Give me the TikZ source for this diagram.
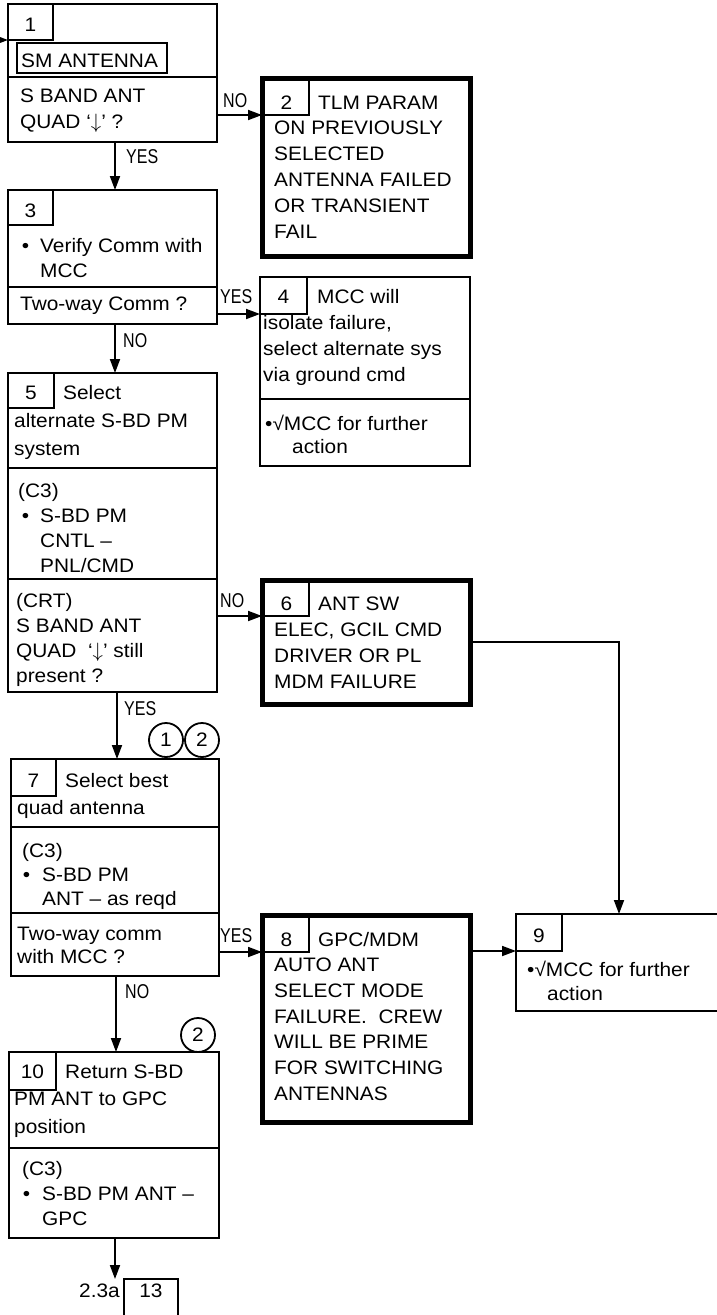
\documentclass[tikz,border=0pt]{standalone}
\usepackage{fontspec}
\setmainfont{Liberation Sans}[FakeStretch=1.07]
\newfontfamily\lblfont{Liberation Sans}[FakeStretch=0.8]
\usetikzlibrary{arrows.meta}
\newcommand\txtlines[2][25.8pt]{\vtop{\baselineskip=#1\lineskiplimit=-30pt\lineskip=0pt\halign{##\hfil\cr#2\crcr}}}
\newcommand\darr{$\downarrow$}
\tikzset{
  mainfont/.style={font=\fontsize{19.5}{25.8}\selectfont},
  box/.style={draw, line width=2.2pt, anchor=north west, inner sep=0pt, outer sep=0pt},
  thickbox/.style={draw, line width=5pt, anchor=north west, inner sep=0pt, outer sep=0pt},
  numbox/.style={draw, line width=1.8pt, anchor=north west, inner sep=0pt, outer sep=0pt, mainfont},
  txt/.style={anchor=base west, inner sep=0pt, mainfont},
  num/.style={anchor=base, inner sep=0pt, mainfont},
  lbl/.style={anchor=base west, inner sep=0pt, font=\lblfont\fontsize{20}{20}\selectfont},
  divline/.style={line width=2.2pt},
  arr/.style={line width=1.8pt, -{Triangle[length=14pt,width=10pt]}},
  circ/.style={draw, circle, line width=1.8pt, minimum size=34pt, inner sep=0pt, mainfont}
}
\begin{document}
\begin{tikzpicture}[x=1pt,y=-1pt]
\useasboundingbox (0,0) rectangle (717,1315);

% ---- Box 1
\node[box, minimum width=209pt, minimum height=138pt] (b1) at (8,4) {};
\node[numbox, minimum width=45pt, minimum height=36pt] (b1n) at (8,4) {};
\node[num] (n1) at (b1n.center |- 0,31) {1};
\node[numbox, line width=2pt, minimum width=150pt, minimum height=30pt] (sm) at (17,43) {};
\node[txt] (smt) at (21,67) {SM ANTENNA};
\draw[divline] (b1.west |- 0,77) -- (b1.east |- 0,77);
\node[txt] (t1) at (20,102) {\txtlines[26pt]{S BAND ANT\cr QUAD ‘\darr’ ?}};
\coordinate (start) at (0,40);
\draw[arr] (start) -- (b1.west |- start);

% ---- Box 2
\node[thickbox, minimum width=208pt, minimum height=178pt] (b2) at (262,78) {};
\node[numbox, minimum width=47pt, minimum height=37pt] (b2n) at (262,78) {};
\node[num] (n2) at ([xshift=1pt]b2n.center |- 0,109) {2};
\node[txt] (t2) at (274,109) {\txtlines{\hspace{44pt}TLM PARAM\cr ON PREVIOUSLY\cr SELECTED\cr ANTENNA FAILED\cr OR TRANSIENT\cr FAIL}};

% ---- Box 3
\node[box, minimum width=209pt, minimum height=134pt] (b3) at (8,190) {};
\node[numbox, minimum width=45pt, minimum height=35pt] (b3n) at (8,190) {};
\node[num] (n3) at (b3n.center |- 0,217) {3};
\draw[divline] (b3.west |- 0,287) -- (b3.east |- 0,287);
\node[txt] (t3a) at (40,252) {\txtlines[25pt]{\llap{•\hspace{11pt}}Verify Comm with\cr MCC}};
\node[txt] (t3b) at (20,310) {Two-way Comm ?};

% ---- Box 4
\node[box, minimum width=210pt, minimum height=189pt] (b4) at (260,277) {};
\node[numbox, minimum width=47pt, minimum height=37pt] (b4n) at (260,277) {};
\node[num] (n4) at (b4n.center |- 0,303) {4};
\draw[divline] (b4.west |- 0,399) -- (b4.east |- 0,399);
\node[txt] (t4a) at (263,303) {\txtlines[26.3pt]{\hspace{54pt}MCC will\cr isolate failure,\cr select alternate sys\cr via ground cmd}};
\node[txt] (t4b) at (265,430) {\txtlines[23pt]{•√MCC for further\cr\hspace{27pt}action}};

% ---- Box 5
\node[box, minimum width=209pt, minimum height=319pt] (b5) at (8,373) {};
\node[numbox, minimum width=46pt, minimum height=35pt] (b5n) at (8,373) {};
\node[num] (n5) at (b5n.center |- 0,399) {5};
\draw[divline] (b5.west |- 0,468) -- (b5.east |- 0,468);
\draw[divline] (b5.west |- 0,579) -- (b5.east |- 0,579);
\node[txt] (t5a) at (14,399) {\txtlines[28pt]{\hspace{49pt}Select\cr alternate S-BD PM\cr system}};
\node[txt] (t5b) at (18,497) {\txtlines[25pt]{(C3)\cr\hspace{22pt}\llap{•\hspace{11pt}}S-BD PM\cr\hspace{22pt}CNTL –\cr\hspace{22pt}PNL/CMD}};
\node[txt] (t5c) at (16,607) {\txtlines[25pt]{(CRT)\cr S BAND ANT\cr QUAD\ \ ‘\darr’ still\cr present ?}};

% ---- Box 6
\node[thickbox, minimum width=208pt, minimum height=124pt] (b6) at (262,580) {};
\node[numbox, minimum width=47pt, minimum height=36pt] (b6n) at (262,580) {};
\node[num] (n6) at ([xshift=1pt]b6n.center |- 0,610) {6};
\node[txt] (t6) at (274,610) {\txtlines[26pt]{\hspace{44pt}ANT SW\cr ELEC, GCIL CMD\cr DRIVER OR PL\cr MDM FAILURE}};

% ---- Box 7
\node[box, minimum width=208pt, minimum height=217pt] (b7) at (11,759) {};
\node[numbox, minimum width=45pt, minimum height=37pt] (b7n) at (11,759) {};
\node[num] (n7) at (b7n.center |- 0,787) {7};
\draw[divline] (b7.west |- 0,827) -- (b7.east |- 0,827);
\draw[divline] (b7.west |- 0,913) -- (b7.east |- 0,913);
\node[txt] (t7a) at (17,787) {\txtlines[27pt]{\hspace{48pt}Select best\cr quad antenna}};
\node[txt] (t7b) at (22,857) {\txtlines[24pt]{(C3)\cr\hspace{20pt}\llap{•\hspace{12pt}}S-BD PM\cr\hspace{20pt}ANT – as reqd}};
\node[txt] (t7c) at (17,940) {\txtlines[23pt]{Two-way comm\cr with MCC ?}};

% ---- Box 8
\node[thickbox, minimum width=208pt, minimum height=207pt] (b8) at (262,915) {};
\node[numbox, minimum width=47pt, minimum height=37pt] (b8n) at (262,915) {};
\node[num] (n8) at ([xshift=1pt]b8n.center |- 0,946) {8};
\node[txt] (t8) at (274,946) {\txtlines[25.7pt]{\hspace{44pt}GPC/MDM\cr AUTO ANT\cr SELECT MODE\cr FAILURE.\ \ CREW\cr WILL BE PRIME\cr FOR SWITCHING\cr ANTENNAS}};

% ---- Box 9
\node[box, minimum width=204pt, minimum height=97pt] (b9) at (516,914) {};
\node[numbox, minimum width=46pt, minimum height=37pt] (b9n) at (516,914) {};
\node[num] (n9) at (b9n.center |- 0,942) {9};
\node[txt] (t9) at (527,976) {\txtlines[24pt]{•√MCC for further\cr\hspace{20pt}action}};

% ---- Box 10
\node[box, minimum width=210pt, minimum height=186pt] (b10) at (9,1052) {};
\node[numbox, minimum width=47pt, minimum height=38pt] (b10n) at (9,1052) {};
\node[num] (n10) at (b10n.center |- 0,1078) {10};
\draw[divline] (b10.west |- 0,1148) -- (b10.east |- 0,1148);
\node[txt] (t10a) at (14,1078) {\txtlines[27.5pt]{\hspace{51pt}Return S-BD\cr PM ANT to GPC\cr position}};
\node[txt] (t10b) at (22,1175) {\txtlines[25pt]{(C3)\cr\hspace{20pt}\llap{•\hspace{12pt}}S-BD PM ANT –\cr\hspace{20pt}GPC}};

% ---- Box 13
\node[numbox, line width=2pt, minimum width=54pt, minimum height=45pt] (b13) at (124,1279) {};
\node[num] (t13) at (b13.center |- 0,1297) {13};
\node[txt, anchor=base east] (ref) at (120,1297) {2.3a};

% ---- circles
\node[circ] (c1) at (166,740) {1};
\node[circ] (c2) at (202,740) {2};
\node[circ] (c3) at (198,1035) {2};

% ---- connectors
\draw[arr] ([xshift=2.5pt]b1.south) -- ([xshift=2.5pt]b3.north);
\draw[arr] (b1.east |- b2n.south) -- (b2.west |- b2n.south);
\draw[arr] (b3.east |- b4n.south) -- (b4.west |- b4n.south);
\draw[arr] ([xshift=2.5pt]b3.south) -- ([xshift=2.5pt]b5.north);
\draw[arr] (b5.east |- b6n.south) -- (b6.west |- b6n.south);
\draw[arr] ([xshift=2pt]b7.north |- b5.south) -- ([xshift=2pt]b7.north);
\draw[arr] (b6.east) -| ([xshift=1pt]b9.north);
\draw[arr] (b7.east |- b8n.south) -- (b8.west |- b8n.south);
\draw[arr] (b8.east |- b9n.south) -- (b9.west |- b9n.south);
\draw[arr] ([xshift=1pt]b7.south) -- ([xshift=1pt]b7.south |- b10.north);
\draw[arr] ([xshift=1pt]b10.south) -- ([xshift=1pt]b10.south |- b13.north);

% ---- labels
\node[lbl] (l1) at (126,163) {YES};
\node[lbl] (l2) at (223,107) {NO};
\node[lbl] (l3) at (220,303) {YES};
\node[lbl] (l4) at (123,347) {NO};
\node[lbl] (l5) at (220,607) {NO};
\node[lbl] (l6) at (124,715) {YES};
\node[lbl] (l7) at (220,942) {YES};
\node[lbl] (l8) at (125,998) {NO};
\end{tikzpicture}
\end{document}
